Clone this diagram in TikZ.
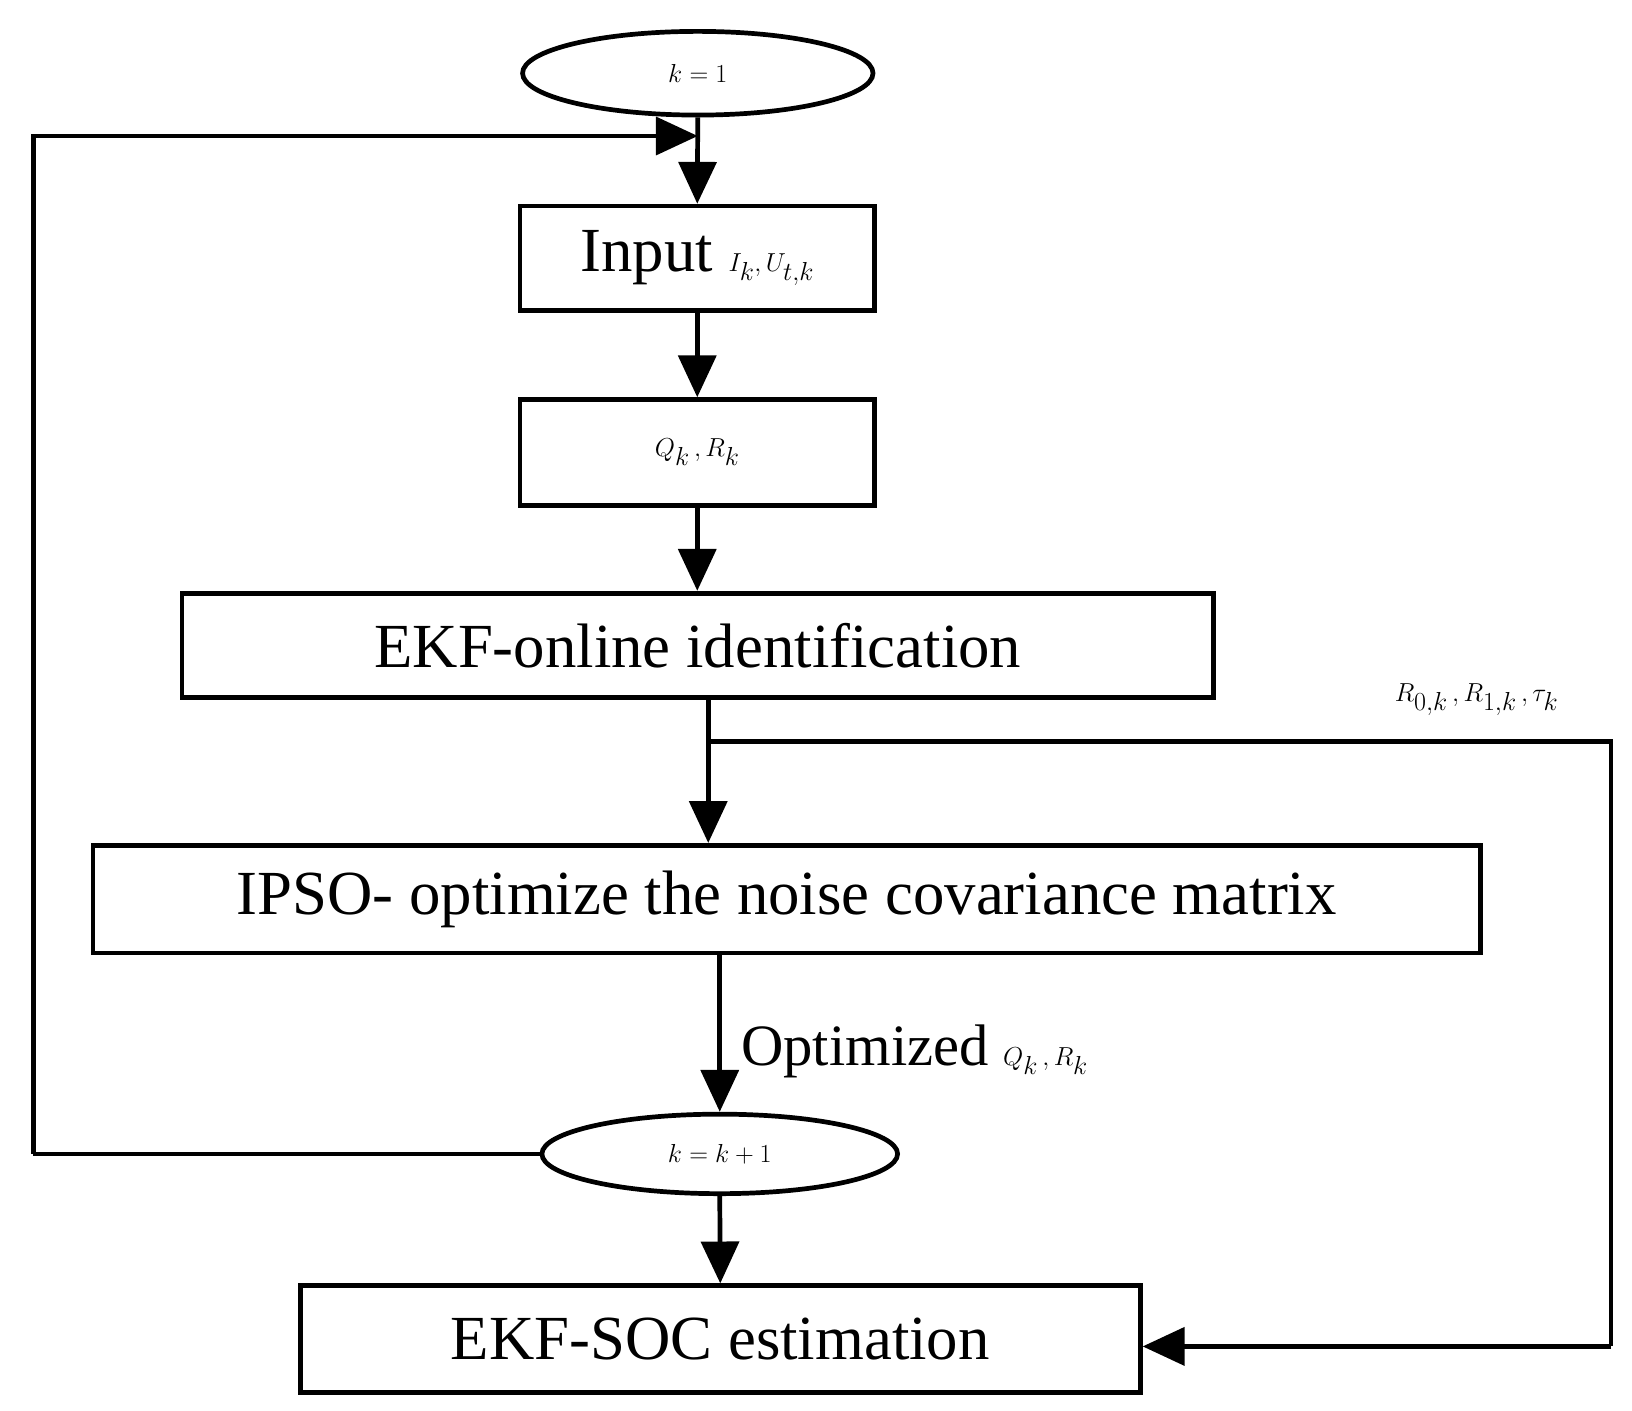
\documentclass[tikz,border=0pt]{standalone}
\usepackage{fontspec}
\setmainfont{Liberation Serif}
\usetikzlibrary{shapes.geometric,arrows.meta}
\begin{document}
\begin{tikzpicture}[x=1pt,y=-1pt,line width=4.5pt,
  box/.style={draw,rectangle,inner sep=0pt,font=\fontsize{60}{66}\selectfont},
  ell/.style={draw,ellipse,inner sep=0pt,font=\fontsize{60}{66}\selectfont},
  arr/.style={-{Triangle[length=40pt,width=36pt]}},
  lbl/.style={font=\fontsize{50}{56}\selectfont}]
\useasboundingbox (0,0) rectangle (1560,1348);
\node[ell,minimum width=335pt,minimum height=80pt] (s) at (667,70) {$k=1$};
\node[box,minimum width=339pt,minimum height=100pt] (in) at (666.5,247) {Input $I_k,U_{t,k}$};
\node[box,minimum width=339pt,minimum height=101pt] (qr) at (666.5,432.5) {$Q_k\,,R_k$};
\node[box,minimum width=986pt,minimum height=100pt] (ekf) at (667,617) {EKF-online identification};
\node[box,minimum width=1326pt,minimum height=103pt] (ipso) at (752,859.5) {IPSO- optimize the noise covariance matrix};
\node[ell,minimum width=340pt,minimum height=76pt] (kk) at (688,1103) {$k=k+1$};
\node[box,minimum width=803pt,minimum height=102pt] (soc) at (688.5,1280) {EKF-SOC estimation};
\coordinate (top) at (667,130);
\coordinate (br) at (677,709);
\coordinate (rt) at (1540,709);
\coordinate (rb) at (1540,1287);
\coordinate (lb) at (32,1103);
\coordinate (lt) at (32,130);
\draw[arr] (s.south) -- (in.north);
\draw[arr] (lb) -- (lb |- top) -- (top);
\draw[arr] (in.south) -- (qr.north);
\draw[arr] (qr.south) -- (qr.south |- ekf.north);
\draw[arr] (br |- ekf.south) -- (br |- ipso.north);
\draw (br) -- (rt) -- (rb);
\draw[arr] (rb) -- (soc.east |- rb);
\draw[arr] (kk.north |- ipso.south) -- (kk.north);
\draw (kk.west) -- (lb);
\draw[arr] (kk.south) -- (soc.north);
\node[lbl,anchor=south east] (pl) at (1495,690) {$R_{0,k}\,,R_{1,k}\,,\tau_k$};
\node[font=\fontsize{56}{60}\selectfont,anchor=west] (ol) at (703,1005) {Optimized \fontsize{44}{50}\selectfont$Q_k\,,R_k$};
\end{tikzpicture}
\end{document}
